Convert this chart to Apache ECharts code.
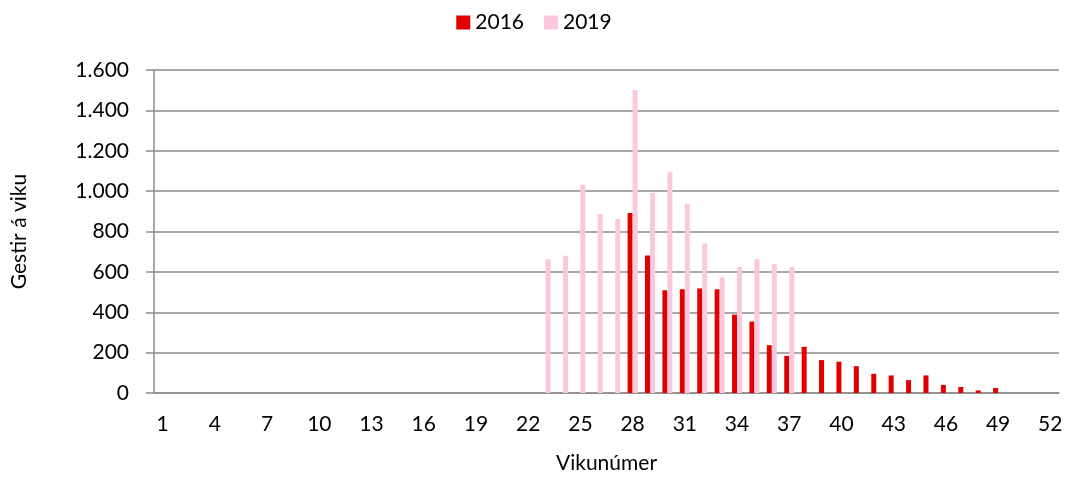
<!DOCTYPE html>
<html>
<head>
<meta charset="utf-8">
<script src="https://cdn.jsdelivr.net/npm/echarts@6/dist/echarts.min.js"></script>
<style>
  html, body { margin: 0; padding: 0; background: #fff; }
  #chart { width: 1068px; height: 479px; }
</style>
</head>
<body>
<div id="chart"></div>
<script>
// vikur 1-52
const weeks = [];
for (let i = 1; i <= 52; i++) weeks.push(String(i));

// gestir á viku 2016 (vikur 28-49)
const visitors2016 = [
  0, 0, 0, 0, 0, 0, 0, 0, 0, 0, 0, 0, 0, 0, 0, 0, 0, 0, 0, 0, 0, 0, 0, 0, 0, 0, 0,
  892, 681, 509, 514, 518, 514, 388, 354, 237, 184, 229, 163, 155, 133, 95, 87, 64, 87, 40, 30, 13, 25,
  0, 0, 0
];

// gestir á viku 2019 (vikur 23-37)
const visitors2019 = [
  0, 0, 0, 0, 0, 0, 0, 0, 0, 0, 0, 0, 0, 0, 0, 0, 0, 0, 0, 0, 0, 0,
  663, 680, 1032, 887, 862, 1501, 991, 1096, 938, 741, 573, 624, 663, 639, 624,
  0, 0, 0, 0, 0, 0, 0, 0, 0, 0, 0, 0, 0, 0, 0
];

const font = "Lato, 'Open Sans', sans-serif";

const chart = echarts.init(document.getElementById("chart"));
chart.setOption({
  animation: false,
  textStyle: { fontFamily: font },
  color: ["#E00000", "#FCC8DE"],
  legend: {
    data: ["2016", "2019"],
    top: 7,
    left: "center",
    itemWidth: 14,
    itemHeight: 14,
    itemGap: 20,
    icon: "rect",
    textStyle: { fontSize: 21, color: "#000", fontFamily: font },
  },
  grid: {
    left: 154,
    right: 9,
    top: 70,
    bottom: 85,
  },
  xAxis: {
    type: "category",
    data: weeks,
    name: "Vikunúmer",
    nameLocation: "middle",
    nameGap: 60,
    nameTextStyle: { fontSize: 21, color: "#000" },
    axisLine: { lineStyle: { color: "#8c8c8c", width: 1.5 } },
    axisTick: { length: 8, interval: 0, lineStyle: { color: "#8c8c8c", width: 1.5 } },
    axisLabel: {
      interval: 2,
      margin: 21,
      fontSize: 21,
      color: "#000",
    },
  },
  yAxis: {
    type: "value",
    min: 0,
    max: 1600,
    interval: 200,
    name: "Gestir á viku",
    nameLocation: "middle",
    nameGap: 124,
    nameTextStyle: { fontSize: 21, color: "#000" },
    axisLine: { show: true, lineStyle: { color: "#8c8c8c", width: 1.5 } },
    axisTick: { show: true, length: 8, lineStyle: { color: "#8c8c8c", width: 1.5 } },
    splitLine: { lineStyle: { color: "#8c8c8c", width: 1.5 } },
    axisLabel: {
      margin: 25,
      fontSize: 21,
      color: "#000",
      formatter: function (v) {
        return String(v).replace(/\B(?=(\d{3})+(?!\d))/g, ".");
      },
    },
  },
  series: [
    {
      name: "2016",
      type: "bar",
      barWidth: 5,
      barGap: "0%",
      data: visitors2016,
    },
    {
      name: "2019",
      type: "bar",
      barWidth: 5,
      barGap: "0%",
      data: visitors2019,
    },
  ],
});
</script>
</body>
</html>
